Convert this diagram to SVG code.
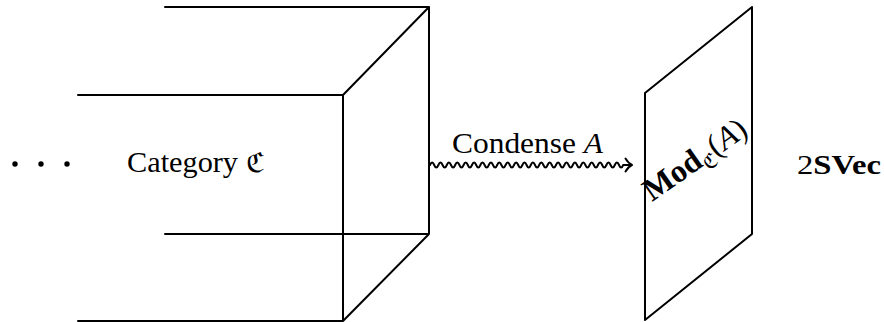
<svg xmlns="http://www.w3.org/2000/svg" width="884" height="322" viewBox="0 0 884 322">
<style>
.ln{stroke:#000;stroke-width:2;fill:none;stroke-linecap:round;stroke-linejoin:round}
.t{font-family:"Liberation Serif","DejaVu Serif",serif;fill:#000}
.fr{font-family:"DejaVu Serif","DejaVu Sans","Noto Sans",serif}
</style>
<rect width="884" height="322" fill="#fff"/>
<g id="dots">
<circle cx="15" cy="164" r="2.7" fill="#000"/>
<circle cx="41" cy="164" r="2.7" fill="#000"/>
<circle cx="67" cy="164" r="2.7" fill="#000"/>
</g>
<g id="category">
<path class="ln" d="M165,7 H429 M78,95 H343 M165,234 H429 M78,321 H343 M343,95 V321 M429,7 V234 M343,95 L429,7 M343,321 L429,234"/>
<text class="t" x="127" y="172" font-size="29"><tspan textLength="111" lengthAdjust="spacingAndGlyphs">Category</tspan><tspan class="fr" x="246" font-size="27">ℭ</tspan></text>
</g>
<g id="modplane">
<path class="ln" d="M645,93 L752,7 V234 L645,320 Z"/>
<text class="t" transform="translate(652,202) rotate(-35)" font-size="32"><tspan font-weight="bold">Mod</tspan><tspan class="fr" font-size="20" dy="7">ℭ</tspan><tspan dy="-7">(</tspan><tspan font-style="italic">A</tspan><tspan>)</tspan></text>
</g>
<g id="svec">
<text class="t" x="797" y="174" font-size="27" textLength="84" lengthAdjust="spacingAndGlyphs"><tspan>2</tspan><tspan font-weight="bold">SVec</tspan></text>
</g>
<g id="connectors">
<path class="ln" stroke-width="1.7" d="M430,165 q2.1,-5 4.2,0 t4.2,0 t4.2,0 t4.2,0 t4.2,0 t4.2,0 t4.2,0 t4.2,0 t4.2,0 t4.2,0 t4.2,0 t4.2,0 t4.2,0 t4.2,0 t4.2,0 t4.2,0 t4.2,0 t4.2,0 t4.2,0 t4.2,0 t4.2,0 t4.2,0 t4.2,0 t4.2,0 t4.2,0 t4.2,0 t4.2,0 t4.2,0 t4.2,0 t4.2,0 t4.2,0 t4.2,0 t4.2,0 t4.2,0 t4.2,0 t4.2,0 t4.2,0 t4.2,0 t4.2,0 t4.2,0 t4.2,0 t4.2,0 t4.2,0 t4.2,0 t4.2,0 t4.2,0 L631,165"/>
<path class="ln" stroke-width="1.7" d="M625.5,158.5 Q628.5,163.5 632,165 Q628.5,166.5 625.5,171.5"/>
<text class="t" x="452" y="153" font-size="29"><tspan textLength="151" lengthAdjust="spacingAndGlyphs">Condense <tspan font-style="italic">A</tspan></tspan></text>
</g>
</svg>
